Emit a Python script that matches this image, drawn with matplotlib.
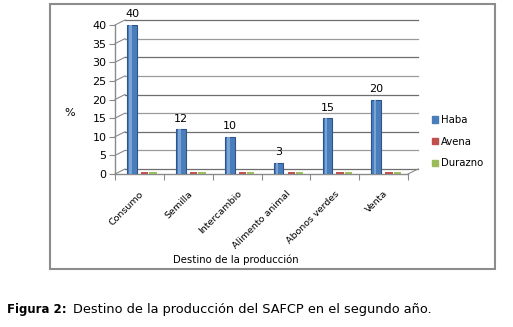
import matplotlib.pyplot as plt
import matplotlib.transforms as mtransforms
from matplotlib.patches import Rectangle
import numpy as np

categories = ["Consumo", "Semilla", "Intercambio", "Alimento animal", "Abonos verdes", "Venta"]
haba = [40, 12, 10, 3, 15, 20]
avena = [0, 0, 0, 0, 0, 0]
durazno = [0, 0, 0, 0, 0, 0]
yticks = [0, 5, 10, 15, 20, 25, 30, 35, 40]

W, H = 513, 327
fig = plt.figure(figsize=(W / 100, H / 100), dpi=100)
plt.rcParams["font.family"] = "DejaVu Sans"

# outer frame of the chart
fig.patches.append(Rectangle((50 / W, 1 - 269 / H), 445 / W, 265 / H, transform=fig.transFigure,
                             fill=False, edgecolor="#8c8c8c", linewidth=1.5))

ax = fig.add_axes([115 / W, 1 - 174 / H, 293 / W, 149 / H])
ax.set_xlim(-0.5, len(categories) - 0.5)
ax.set_ylim(0, 40)
for s in ax.spines.values():
    s.set_visible(False)

# 3d-ish back wall: shift gridlines up/right
shift = ax.transData + mtransforms.ScaledTranslation(0.10, 0.05, fig.dpi_scale_trans)
x0, x1 = -0.5, len(categories) - 0.5
for y in yticks:
    c = "#6e6e6e" if y % 10 == 0 else "#9a9a9a"
    ax.plot([x0, x1], [y, y], transform=shift, color=c, lw=0.9, zorder=1, clip_on=False)
    # diagonal from axis to the wall
    p0 = ax.transData.transform((x0, y))
    p1 = shift.transform((x0, y))
    ax.plot([p0[0], p1[0]], [p0[1], p1[1]], transform=None, color="#8a8a8a", lw=0.8, zorder=1,
            clip_on=False)
p0 = ax.transData.transform((x1, 0))
p1 = shift.transform((x1, 0))
ax.plot([p0[0], p1[0]], [p0[1], p1[1]], transform=None, color="#8a8a8a", lw=0.8, zorder=1, clip_on=False)
ax.plot([x0, x1], [0, 0], color="#8a8a8a", lw=1.0, zorder=2, clip_on=False)
ax.plot([x0, x0], [0, 40], color="#8a8a8a", lw=1.0, zorder=2, clip_on=False)

x = np.arange(len(categories))
b1 = ax.bar(x - 0.15, haba, 0.2, color="#4a7ebb", edgecolor="#2f5487", linewidth=0.8, zorder=3, label="Haba")
ax.bar(x - 0.18, haba, 0.05, color="#7aa3d8", linewidth=0, zorder=4)
ax.bar(x + 0.11, avena, 0.15, bottom=0.4, color="#c0504d", edgecolor="#c0504d", linewidth=1.4, zorder=3,
       label="Avena", clip_on=False)
ax.bar(x + 0.28, durazno, 0.15, bottom=0.4, color="#9bbb59", edgecolor="#9bbb59", linewidth=1.4, zorder=3,
       label="Durazno", clip_on=False)
ax.bar_label(b1, padding=4, fontsize=8)

ax.set_yticks(yticks)
ax.set_xticks(np.arange(-0.5, len(categories), 1.0))
ax.set_xticklabels([])
ax.set_xticks(x, minor=True)
ax.set_xticklabels(categories, minor=True, rotation=45, ha="right", va="top",
                   rotation_mode="anchor", fontsize=6.8)
ax.tick_params(axis="x", which="major", length=4, color="#8a8a8a")
ax.tick_params(axis="x", which="minor", length=0, pad=11)
ax.tick_params(axis="y", length=4, color="#8a8a8a", labelsize=8, pad=2)

fig.text(70 / W, 1 - 113 / H, "%", fontsize=8, ha="center", va="center")
fig.text(236 / W, 1 - 260 / H, "Destino de la producción", fontsize=7.3, ha="center", va="center")

handles = [Rectangle((0, 0), 1, 1, color=c) for c in ["#4a7ebb", "#c0504d", "#9bbb59"]]
fig.legend(handles, ["Haba", "Avena", "Durazno"], loc="upper left", bbox_to_anchor=(423 / W, 1 - 106 / H),
           frameon=False, fontsize=7.3, handlelength=0.6, handleheight=0.6, handletextpad=0.3,
           labelspacing=1.15)

fig.text(7 / W, 1 - 310 / H, "Figura 2:", fontsize=8.5, fontweight="bold", va="center")
fig.text(73 / W, 1 - 310 / H, "Destino de la producción del SAFCP en el segundo año.",
         fontsize=9.3, va="center")

fig.savefig("out.png", dpi=100)
